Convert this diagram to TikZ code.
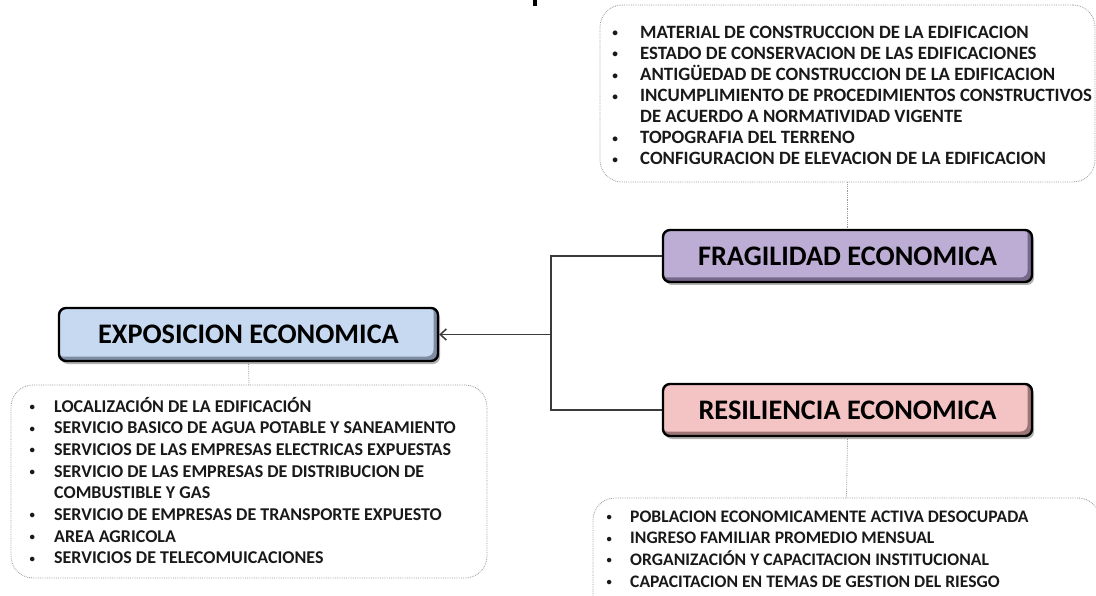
\documentclass[tikz,border=0pt]{standalone}
\usepackage{graphicx}
\usepackage{fontspec}
\setmainfont{Carlito}
\usetikzlibrary{shadows,arrows.meta}
\definecolor{expL}{HTML}{C6D9F1}
\definecolor{expD}{HTML}{7E8DA3}
\definecolor{fraL}{HTML}{BDADD4}
\definecolor{fraD}{HTML}{76688A}
\definecolor{resL}{HTML}{F4C3C3}
\definecolor{resD}{HTML}{9C7676}
\definecolor{dotgray}{HTML}{9A9A9A}
\definecolor{linegray}{HTML}{3A3A3A}
\newcommand\mybul{\makebox[9pt]{\raisebox{1.5pt}{\scalebox{0.6}{\textbullet}}}}
\begin{document}
\begin{tikzpicture}[x=1pt,y=-1pt,
  head/.style 2 args={draw=black, line width=2.4pt, rounded corners=7pt,
    fill=#2, inner sep=0pt, text=black,
    font=\fontsize{28.3}{30}\selectfont\bfseries,
    drop shadow={shadow xshift=2pt, shadow yshift=-3pt, fill=black, opacity=0.3},
    path picture={\fill[#1] ([shift={(-3pt,3pt)}]path picture bounding box.north west)
      rectangle ([shift={(-4.5pt,4.5pt)}]path picture bounding box.south east);}},
  txtbox/.style={draw=dotgray, densely dotted, line width=0.8pt, rounded corners=22pt, inner sep=0pt},
  txt/.style={anchor=base west, inner sep=0pt, text=black!90,
    font=\fontsize{18}{21.7}\selectfont\bfseries},
  dotline/.style={draw=dotgray, densely dotted, line width=0.8pt},
  link/.style={draw=linegray, line width=1.5pt}
]
\useasboundingbox (0,0) rectangle (1096,596);
\clip (0,0) rectangle (1096,596);
\fill[black] (533,0) rectangle (537,6);

% boxes
\node[txtbox, minimum width=495pt, minimum height=177pt] (topbox) at (847.5,93.5) {};
\node[txtbox, minimum width=476pt, minimum height=193pt] (leftbox) at (249,481.5) {};
\node[txtbox, minimum width=507pt, minimum height=160pt] (rightbox) at (846.5,578) {};

% headings
\node[head={expL}{expD}, minimum width=379pt, minimum height=53pt] (exp) at (248.5,334.5) {EXPOSICION ECONOMICA};
\node[head={fraL}{fraD}, minimum width=369pt, minimum height=52pt] (frag) at (847.5,256) {FRAGILIDAD ECONOMICA};
\node[head={resL}{resD}, minimum width=369pt, minimum height=52pt] (res) at (847.5,410) {RESILIENCIA ECONOMICA};

% texts
\node[txt] (ttop) at (610.5,38.5) {\fontsize{18.8}{20.9}\selectfont\begin{tabular}[t]{@{}p{29.5pt}@{}l@{}}
\mybul & MATERIAL DE CONSTRUCCION DE LA EDIFICACION\\
\mybul & ESTADO DE CONSERVACION DE LAS EDIFICACIONES\\
\mybul & ANTIGÜEDAD DE CONSTRUCCION DE LA EDIFICACION\\
\mybul & INCUMPLIMIENTO DE PROCEDIMIENTOS CONSTRUCTIVOS\\
 & DE ACUERDO A NORMATIVIDAD VIGENTE\\
\mybul & TOPOGRAFIA DEL TERRENO\\
\mybul & CONFIGURACION DE ELEVACION DE LA EDIFICACION
\end{tabular}};
\node[txt] (tleft) at (27.5,412) {\begin{tabular}[t]{@{}p{26.5pt}@{}l@{}}
\mybul & LOCALIZACIÓN DE LA EDIFICACIÓN\\
\mybul & SERVICIO BASICO DE AGUA POTABLE Y SANEAMIENTO\\
\mybul & SERVICIOS DE LAS EMPRESAS ELECTRICAS EXPUESTAS\\
\mybul & SERVICIO DE LAS EMPRESAS DE DISTRIBUCION DE\\
 & COMBUSTIBLE Y GAS\\
\mybul & SERVICIO DE EMPRESAS DE TRANSPORTE EXPUESTO\\
\mybul & AREA AGRICOLA\\
\mybul & SERVICIOS DE TELECOMUICACIONES
\end{tabular}};
\node[txt] (tright) at (604.5,522) {\fontsize{17.6}{21.7}\selectfont\begin{tabular}[t]{@{}p{25.5pt}@{}l@{}}
\mybul & POBLACION ECONOMICAMENTE ACTIVA DESOCUPADA\\
\mybul & INGRESO FAMILIAR PROMEDIO MENSUAL\\
\mybul & ORGANIZACIÓN Y CAPACITACION INSTITUCIONAL\\
\mybul & CAPACITACION EN TEMAS DE GESTION DEL RIESGO
\end{tabular}};

% connectors
\draw[dotline] (topbox.south) -- (frag.north);
\draw[dotline] (exp.south) -- (leftbox.north);
\draw[dotline] (res.south) -- (rightbox.north);
\coordinate (j) at (551,334.5);
\draw[link] (frag.west) -| (j) |- (res.west);
\draw[link, -{Straight Barb[length=6pt,width=11pt]}] (j) -- (exp.east);
\end{tikzpicture}
\end{document}
